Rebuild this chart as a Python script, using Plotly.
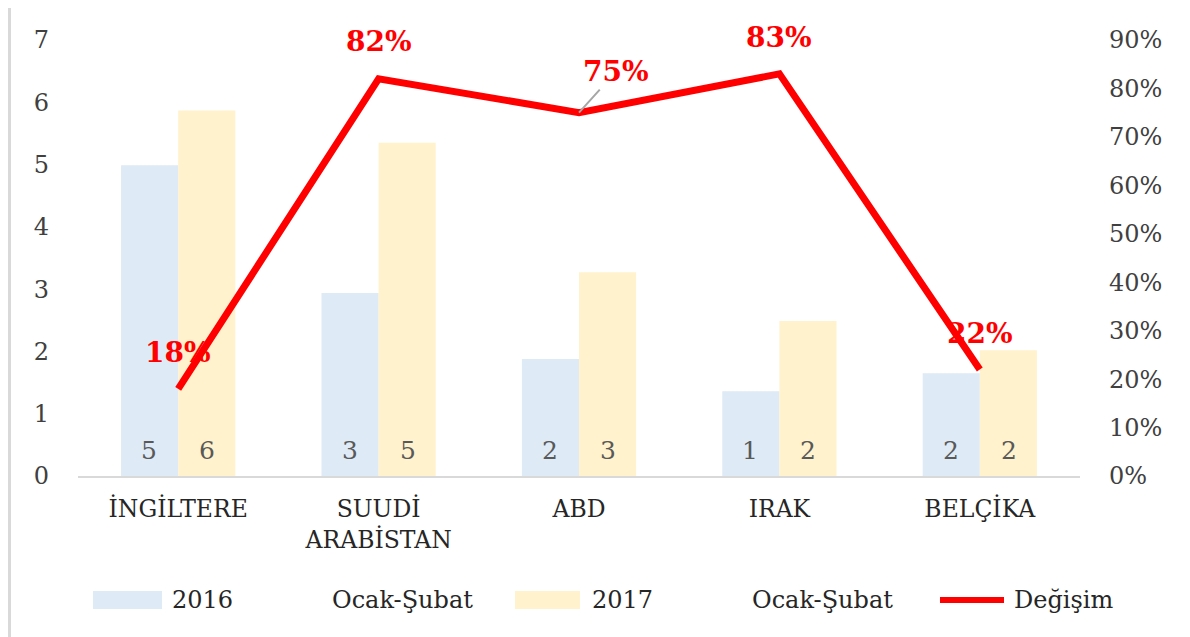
import plotly.graph_objects as go

categories = ["İNGİLTERE", "SUUDİ<br>ARABİSTAN", "ABD", "IRAK", "BELÇİKA"]
values_2016 = [4.99, 2.94, 1.88, 1.36, 1.65]
values_2017 = [5.87, 5.35, 3.27, 2.49, 2.02]
change_pct = [0.18, 0.82, 0.75, 0.83, 0.22]
name_2016 = "2016\u00a0\u00a0\u00a0\u00a0\u00a0\u00a0\u00a0\u00a0\u00a0\u00a0\u00a0\u00a0Ocak-Şubat"
name_2017 = "2017\u00a0\u00a0\u00a0\u00a0\u00a0\u00a0\u00a0\u00a0\u00a0\u00a0\u00a0\u00a0Ocak-Şubat"
name_change = "Değişim"

W, H = 1190, 637
OFF = 8  # page body margin
# target plot area in screen pixels
SL, SR, ST, SB = 78, 1080, 40, 476
L, R, T, B = SL - OFF, SR - OFF, ST - OFF, SB - OFF
FONT = "DejaVu Serif"
C16 = "#DEEAF6"
C17 = "#FFF2CC"
RED = "#FF0000"


def px(x):
    return (x - SL) / (SR - SL)


def py(y):
    return (SB - y) / (SB - ST)


fig = go.Figure()
fig.add_trace(go.Bar(x=categories, y=values_2016, name=name_2016,
                     marker=dict(color=C16, line=dict(width=0)), yaxis="y"))
fig.add_trace(go.Bar(x=categories, y=values_2017, name=name_2017,
                     marker=dict(color=C17, line=dict(width=0)), yaxis="y"))
fig.add_trace(go.Scatter(x=categories, y=change_pct, name=name_change, mode="lines",
                         line=dict(color=RED, width=7), yaxis="y2"))

annotations = []
# bar value labels at the base of bars
for vals, shift in ((values_2016, -29), (values_2017, 29)):
    for c, v in zip(categories, vals):
        annotations.append(dict(x=c, y=0, xref="x", yref="y", text=str(round(v)),
                                showarrow=False, xshift=shift, yshift=26,
                                font=dict(family=FONT, size=25, color="#595959")))

# percentage labels
offsets = [(0, 36, False), (0, 37, False), (37, 41, True), (0, 36, False), (0, 36, False)]
for c, v, (dx, dy, arrow) in zip(categories, change_pct, offsets):
    txt = f"{round(v * 100)}%"
    if arrow:
        annotations.append(dict(x=c, y=v, xref="x", yref="y2", text=f"<b>{txt}</b>", showarrow=True,
                                ax=dx, ay=-dy, arrowhead=0, arrowwidth=2, arrowcolor="#A6A6A6",
                                standoff=0,
                                font=dict(family=FONT, size=28, color=RED)))
    else:
        annotations.append(dict(x=c, y=v, xref="x", yref="y2", text=f"<b>{txt}</b>",
                                showarrow=False, xshift=dx, yshift=dy,
                                font=dict(family=FONT, size=28, color=RED)))

# custom legend
shapes = []
leg_y = 600
shapes.append(dict(type="rect", xref="paper", yref="paper", x0=px(93), x1=px(162),
                   y0=py(609), y1=py(591), fillcolor=C16, line=dict(width=0)))
shapes.append(dict(type="rect", xref="paper", yref="paper", x0=px(515), x1=px(580),
                   y0=py(609), y1=py(591), fillcolor=C17, line=dict(width=0)))
shapes.append(dict(type="line", xref="paper", yref="paper", x0=px(940), x1=px(1004),
                   y0=py(leg_y), y1=py(leg_y), line=dict(color=RED, width=6)))
# frame line on the left
shapes.append(dict(type="line", xref="paper", yref="paper", x0=px(9.5), x1=px(9.5),
                   y0=py(0), y1=py(645), line=dict(color="#D9D9D9", width=3)))

for txt, x0 in (("2016", 170), ("Ocak-Şubat", 330), ("2017", 590), ("Ocak-Şubat", 750), (name_change, 1012)):
    annotations.append(dict(x=px(x0), y=py(leg_y), xref="paper", yref="paper", text=txt,
                            showarrow=False, xanchor="left", yanchor="middle",
                            font=dict(family=FONT, size=24, color="#262626")))

fig.update_layout(
    width=W, height=H,
    margin=dict(l=L, r=W - R, t=T, b=H - B),
    paper_bgcolor="white", plot_bgcolor="white",
    barmode="group", bargap=0.43, bargroupgap=0,
    showlegend=False,
    font=dict(family=FONT, color="#404040"),
    xaxis=dict(showline=True, linecolor="#D9D9D9", linewidth=2, showgrid=False,
               ticks="", tickfont=dict(family=FONT, size=23.5, color="#262626"),
               ticklabelstandoff=11),
    yaxis=dict(range=[0, 7], dtick=1, showgrid=False, zeroline=False, showline=False,
               ticks="", tickfont=dict(family=FONT, size=24, color="#404040"),
               ticklabelstandoff=28),
    yaxis2=dict(range=[0, 0.9], dtick=0.1, tickformat=".0%", overlaying="y", side="right",
                showgrid=False, zeroline=False, showline=False, ticks="",
                tickfont=dict(family=FONT, size=24, color="#404040"),
                ticklabelstandoff=28),
    annotations=annotations,
    shapes=shapes,
)

fig.write_html("out.html")
